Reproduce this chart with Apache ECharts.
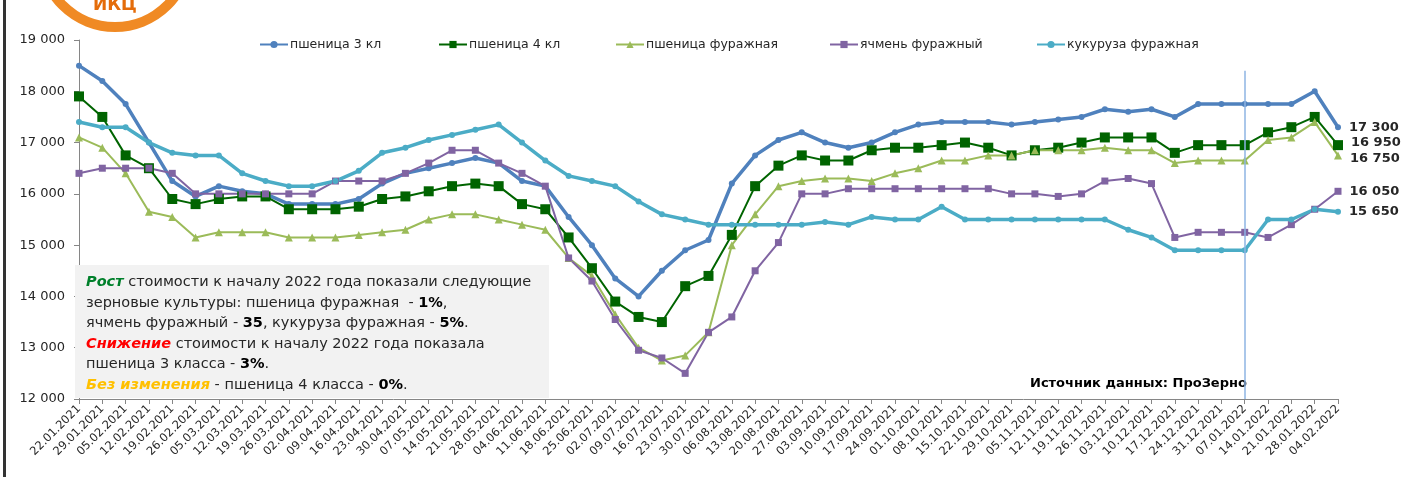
<!DOCTYPE html>
<html>
<head>
<meta charset="utf-8">
<script src="https://cdn.jsdelivr.net/npm/echarts@6/dist/echarts.min.js"></script>
<style>
  html, body { margin: 0; padding: 0; background: #fff; }
  #chart { width: 1407px; height: 477px; }
</style>
</head>
<body>
<div id="chart"></div>
<script>
// даты (еженедельно)
const dates = [
  '22.01.2021', '29.01.2021', '05.02.2021', '12.02.2021', '19.02.2021', '26.02.2021', '05.03.2021',
  '12.03.2021', '19.03.2021', '26.03.2021', '02.04.2021', '09.04.2021', '16.04.2021', '23.04.2021',
  '30.04.2021', '07.05.2021', '14.05.2021', '21.05.2021', '28.05.2021', '04.06.2021', '11.06.2021',
  '18.06.2021', '25.06.2021', '02.07.2021', '09.07.2021', '16.07.2021', '23.07.2021', '30.07.2021',
  '06.08.2021', '13.08.2021', '20.08.2021', '27.08.2021', '03.09.2021', '10.09.2021', '17.09.2021',
  '24.09.2021', '01.10.2021', '08.10.2021', '15.10.2021', '22.10.2021', '29.10.2021', '05.11.2021',
  '12.11.2021', '19.11.2021', '26.11.2021', '03.12.2021', '10.12.2021', '17.12.2021', '24.12.2021',
  '31.12.2021', '07.01.2022', '14.01.2022', '21.01.2022', '28.01.2022', '04.02.2022'
]

const wheat3 = [
  18500, 18200, 17750, 17000, 16250, 15950, 16150, 16050, 16000, 15800, 15800, 15800, 15900, 16200,
  16400, 16500, 16600, 16700, 16600, 16250, 16150, 15550, 15000, 14350, 14000, 14500, 14900, 15100,
  16200, 16750, 17050, 17200, 17000, 16900, 17000, 17200, 17350, 17400, 17400, 17400, 17350, 17400,
  17450, 17500, 17650, 17600, 17650, 17500, 17750, 17750, 17750, 17750, 17750, 18000, 17300
]
const wheat4 = [
  17900, 17500, 16750, 16500, 15900, 15800, 15900, 15950, 15950, 15700, 15700, 15700, 15750, 15900,
  15950, 16050, 16150, 16200, 16150, 15800, 15700, 15150, 14550, 13900, 13600, 13500, 14200, 14400,
  15200, 16150, 16550, 16750, 16650, 16650, 16850, 16900, 16900, 16950, 17000, 16900, 16750, 16850,
  16900, 17000, 17100, 17100, 17100, 16800, 16950, 16950, 16950, 17200, 17300, 17500, 16950
]
const wheatFeed = [
  17100, 16900, 16400, 15650, 15550, 15150, 15250, 15250, 15250, 15150, 15150, 15150, 15200, 15250,
  15300, 15500, 15600, 15600, 15500, 15400, 15300, 14750, 14400, 13650, 13000, 12750, 12850, 13300,
  15000, 15600, 16150, 16250, 16300, 16300, 16250, 16400, 16500, 16650, 16650, 16750, 16750, 16850,
  16850, 16850, 16900, 16850, 16850, 16600, 16650, 16650, 16650, 17050, 17100, 17400, 16750
]
const barleyFeed = [
  16400, 16500, 16500, 16500, 16400, 16000, 16000, 16000, 16000, 16000, 16000, 16250, 16250, 16250,
  16400, 16600, 16850, 16850, 16600, 16400, 16150, 14750, 14300, 13550, 12950, 12800, 12500, 13300,
  13600, 14500, 15050, 16000, 16000, 16100, 16100, 16100, 16100, 16100, 16100, 16100, 16000, 16000,
  15950, 16000, 16250, 16300, 16200, 15150, 15250, 15250, 15250, 15150, 15400, 15700, 16050
]
const cornFeed = [
  17400, 17300, 17300, 17000, 16800, 16750, 16750, 16400, 16250, 16150, 16150, 16250, 16450, 16800,
  16900, 17050, 17150, 17250, 17350, 17000, 16650, 16350, 16250, 16150, 15850, 15600, 15500, 15400,
  15400, 15400, 15400, 15400, 15450, 15400, 15550, 15500, 15500, 15750, 15500, 15500, 15500, 15500,
  15500, 15500, 15500, 15300, 15150, 14900, 14900, 14900, 14900, 15500, 15500, 15700, 15650
]

const seriesNames = ['пшеница 3 кл', 'пшеница 4 кл', 'пшеница фуражная', 'ячмень фуражный', 'кукуруза фуражная']
const markDate = '07.01.2022'

const chart = echarts.init(document.getElementById('chart'))
const fmt = (v) => String(v).replace(/\B(?=(\d{3})+(?!\d))/g, ' ')
const last = dates.length - 1
const font = 'DejaVu Sans, Arial, sans-serif'

// подпись только у последней точки
function endLabel(offset) {
  return {
    show: true,
    position: 'right',
    distance: 8,
    offset: offset,
    fontFamily: font,
    fontSize: 13,
    fontWeight: 'bold',
    color: '#262626',
    formatter: (p) => (p.dataIndex === last ? fmt(p.value) : '')
  }
}

function makeLine(name, data, color, width, symbol, size, offset) {
  return {
    name: name,
    type: 'line',
    data: data,
    symbol: symbol,
    symbolSize: size,
    showAllSymbol: true,
    lineStyle: { color: color, width: width },
    itemStyle: { color: color },
    label: endLabel(offset),
    emphasis: { disabled: true },
    animation: false
  }
}

const colors = ['#4F81BD', '#006400', '#9BBB59', '#8064A2', '#4BACC6']
const legendLeft = [254, 433, 610, 824, 1031]

const series = [
  makeLine(seriesNames[0], wheat3, colors[0], 3.5, 'circle', 6, [0, 0]),
  makeLine(seriesNames[1], wheat4, colors[1], 2, 'rect', 10, [0, -3]),
  makeLine(seriesNames[2], wheatFeed, colors[2], 2, 'triangle', 8, [0, 3]),
  makeLine(seriesNames[3], barleyFeed, colors[3], 2, 'rect', 7, [0, 0]),
  makeLine(seriesNames[4], cornFeed, colors[4], 3.5, 'circle', 6, [0, 0])
]
// вертикальная линия на 07.01.2022
series[0].markLine = {
  silent: true,
  symbol: 'none',
  label: { show: false },
  lineStyle: { color: '#8EB4E3', width: 1.5, type: 'solid' },
  data: [[{ coord: [markDate, 18400] }, { coord: [markDate, 12000] }]]
}

const rt = (fill, extra) => Object.assign({ fontWeight: 'bold', fill: fill, fontSize: 14.5, fontFamily: font, lineHeight: 20.5 }, extra)

const option = {
  backgroundColor: '#fff',
  textStyle: { fontFamily: font },
  grid: { left: 79, right: 69, top: 40, bottom: 78 },
  legend: seriesNames.map((n, i) => ({
    data: [n],
    left: legendLeft[i],
    top: 33,
    itemWidth: 28,
    itemHeight: 9,
    itemGap: 2,
    textStyle: { fontFamily: font, fontSize: 12.5, color: '#262626', padding: [0, 0, 0, -3] }
  })),
  xAxis: {
    type: 'category',
    data: dates,
    boundaryGap: false,
    axisLine: { lineStyle: { color: '#868686' } },
    axisTick: { show: true, alignWithLabel: true, length: 5, lineStyle: { color: '#868686' } },
    axisLabel: { rotate: 45, interval: 0, fontSize: 11.5, color: '#262626', fontFamily: font, margin: 8 },
    splitLine: { show: false }
  },
  yAxis: {
    type: 'value',
    min: 12000,
    max: 19000,
    interval: 1000,
    axisLine: { show: true, lineStyle: { color: '#868686' } },
    axisTick: { show: true, length: 5, lineStyle: { color: '#868686' } },
    axisLabel: { fontSize: 13, color: '#262626', fontFamily: font, margin: 14, formatter: fmt },
    splitLine: { show: false }
  },
  graphic: [
    // рамка слева
    { type: 'rect', left: 3, top: 0, z: 10, shape: { width: 3, height: 477 }, style: { fill: '#333' } },
    // логотип
    {
      type: 'circle', z: 10, shape: { cx: 115, cy: -47, r: 74 },
      style: { fill: 'none', stroke: '#F08A24', lineWidth: 10 }
    },
    {
      type: 'text', left: 93, top: -3, z: 11,
      style: { text: 'ИКЦ', font: 'bold 17px ' + font, fill: '#E46C0A' }
    },
    // блок с комментарием
    {
      type: 'rect', left: 75, top: 265, z: 1,
      shape: { width: 474, height: 133 },
      style: { fill: '#F2F2F2' }
    },
    {
      type: 'text', left: 86, top: 272, z: 2,
      style: {
        text: [
          '{g|Рост} стоимости к началу 2022 года показали следующие',
          'зерновые культуры: пшеница фуражная  - {b|1%},',
          'ячмень фуражный - {b|35}, кукуруза фуражная - {b|5%}.',
          '{r|Снижение} стоимости к началу 2022 года показала',
          'пшеница 3 класса - {b|3%}.',
          '{y|Без изменения} - пшеница 4 класса - {b|0%}.'
        ].join('\n'),
        font: '14.5px ' + font,
        fill: '#262626',
        lineHeight: 20.5,
        rich: {
          g: rt('#00802B', { fontStyle: 'italic' }),
          r: rt('#FF0000', { fontStyle: 'italic' }),
          y: rt('#FFC000', { fontStyle: 'italic' }),
          b: rt('#000')
        }
      }
    },
    {
      type: 'text', left: 1030, top: 377, z: 2,
      style: { text: 'Источник данных: ПроЗерно', font: 'bold 13px ' + font, fill: '#000' }
    }
  ],
  series: series
}

chart.setOption(option)
</script>
</body>
</html>
